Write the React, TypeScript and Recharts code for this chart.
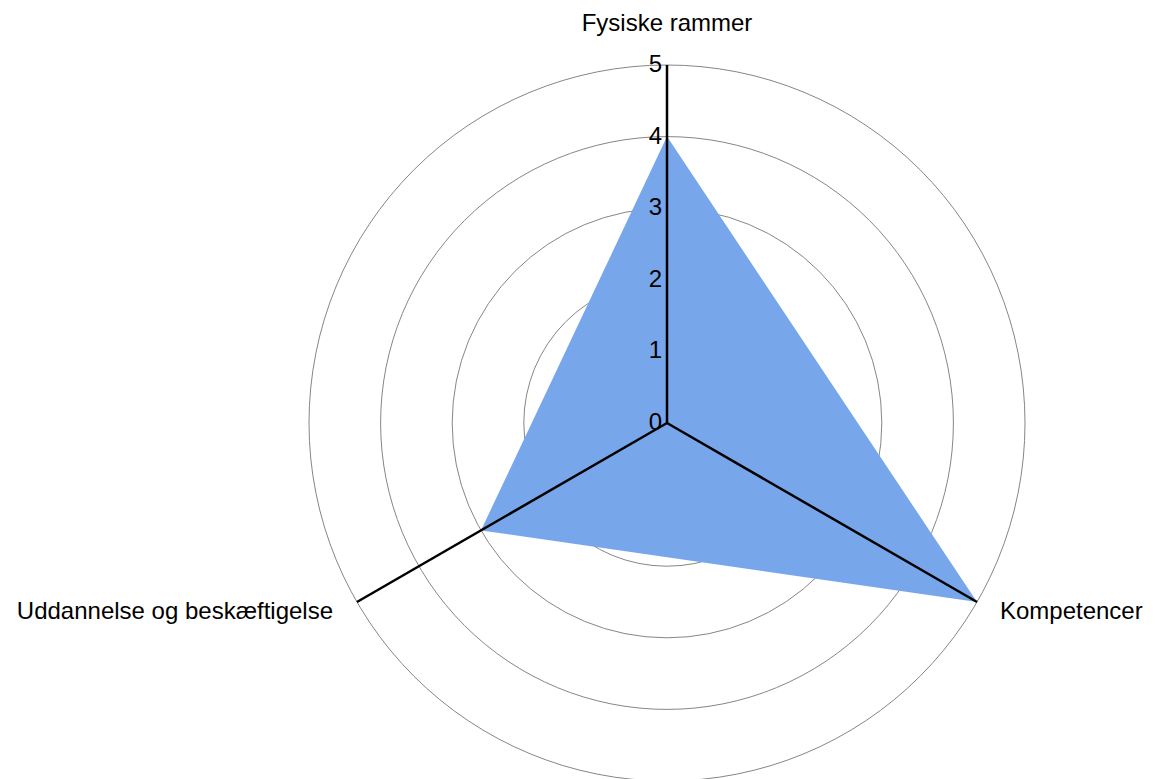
import React from 'react';
import { RadarChart, Radar, PolarGrid, PolarAngleAxis, PolarRadiusAxis } from 'recharts';

const categories = ['Fysiske rammer', 'Kompetencer', 'Uddannelse og beskæftigelse'];
const values = [4, 5, 3];
const radiusTicks = [0, 1, 2, 3, 4, 5];

const data = categories.map((c, i) => ({ category: c, value: values[i] }));

const FONT = '"Liberation Sans", Arial, sans-serif';
const CX = 659;
const CY = 415;
const R = 358;

const AngleTick = (props: any) => {
  const { x, y, payload, index } = props;
  const cx = typeof props.cx === 'number' ? props.cx : CX;
  const cy = typeof props.cy === 'number' ? props.cy : CY;
  const r = typeof props.radius === 'number' ? props.radius : R;
  const d = Math.hypot(x - cx, y - cy) || 1;
  const ex = cx + ((x - cx) * r) / d;
  const ey = cy + ((y - cy) * r) / d;
  const offsets = [
    { dx: 0, dy: -26, anchor: 'middle' },
    { dx: 16, dy: 13, anchor: 'start' },
    { dx: -17, dy: 13, anchor: 'end' },
  ];
  const o = offsets[index] || { dx: 0, dy: 0, anchor: 'middle' };
  return (
    <g>
      <line x1={cx} y1={cy} x2={ex} y2={ey} stroke="#000" strokeWidth={2.5} />
      <text x={x + o.dx} y={y + o.dy} textAnchor={o.anchor} fontFamily={FONT} fontSize={24} fill="#000">
        {payload.value}
      </text>
    </g>
  );
};

const RadiusTick = (props: any) => {
  const { x, y, payload } = props;
  return (
    <text x={x - 5} y={y + 7} textAnchor="end" fontFamily={FONT} fontSize={24} fill="#000">
      {payload.value}
    </text>
  );
};

export default function App() {
  return (
    <div style={{ width: 1147, height: 771, overflow: 'hidden' }}>
      <RadarChart width={1147} height={771} data={data} cx={CX} cy={CY} outerRadius={R} startAngle={90} endAngle={-270}>
        <PolarGrid gridType="circle" radialLines={false} stroke="#868686" strokeWidth={1} />
        <Radar dataKey="value" fill="#78A6EB" fillOpacity={1} stroke="none" isAnimationActive={false} />
        <PolarAngleAxis dataKey="category" tick={<AngleTick />} axisLine={false} tickLine={false} />
        <PolarRadiusAxis
          angle={90}
          domain={[0, 5]}
          ticks={radiusTicks as any}
          tickCount={6}
          tick={<RadiusTick />}
          axisLine={false}
          tickLine={false}
        />
      </RadarChart>
    </div>
  );
}
